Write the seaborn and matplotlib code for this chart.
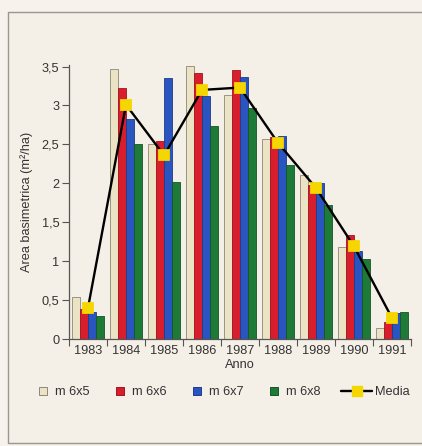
import matplotlib
matplotlib.use("Agg")
import matplotlib.pyplot as plt
from matplotlib.patches import Rectangle
from matplotlib.lines import Line2D
from matplotlib.ticker import FixedLocator, FuncFormatter
import seaborn as sns
import pandas as pd

# Basal area per year and spacing (m²/ha)
anni = ["1983", "1984", "1985", "1986", "1987", "1988", "1989", "1990", "1991"]
m6x5 = [0.54, 3.47, 2.51, 3.51, 3.13, 2.57, 2.11, 1.18, 0.14]
m6x6 = [0.39, 3.23, 2.54, 3.42, 3.45, 2.59, 1.98, 1.33, 0.22]
m6x7 = [0.35, 2.82, 3.35, 3.12, 3.37, 2.61, 2.00, 1.13, 0.33]
m6x8 = [0.30, 2.50, 2.02, 2.74, 2.97, 2.24, 1.72, 1.03, 0.35]
media = [0.40, 3.01, 2.36, 3.20, 3.23, 2.52, 1.94, 1.19, 0.27]
serie = ["m 6x5", "m 6x6", "m 6x7", "m 6x8"]

colori = ["#ece3c4", "#d81e2c", "#2a55c0", "#1e7a37"]
bordi = ["#8a8778", "#a0141e", "#1c3b8a", "#145626"]
giallo = "#f6d600"
sfondo = "#f5f0e7"

df = pd.DataFrame({
    "Anno": anni * 4,
    "Serie": sum([[s] * len(anni) for s in serie], []),
    "Valore": m6x5 + m6x6 + m6x7 + m6x8,
})

sns.set_theme(style="white")
plt.rcParams["font.family"] = ["Liberation Sans", "DejaVu Sans"]

fig = plt.figure(figsize=(4.22, 4.46), dpi=100, facecolor="#f7f3ec")
# inner panel frame
fig.patches.append(Rectangle((8 / 422, 3 / 446), 1.2, 431 / 446, transform=fig.transFigure,
                             facecolor=sfondo, edgecolor="#9a978f", linewidth=1.0, zorder=-10))

ax = fig.add_axes([69 / 422, 107 / 446, 342 / 422, 274 / 446])
ax.set_facecolor(sfondo)

sns.barplot(data=df, x="Anno", y="Valore", hue="Serie", palette=colori,
            width=0.82, gap=0, ax=ax, legend=False, saturation=1)

n = len(anni)
for i, patch in enumerate(ax.patches[: 4 * n]):
    k = i // n
    patch.set_edgecolor(bordi[k])
    patch.set_linewidth(0.6)

sns.pointplot(x=anni, y=media, color="black", markers="s", linestyles="-",
              ax=ax, markersize=7, linewidth=1.7,
              markerfacecolor=giallo, markeredgecolor=giallo, zorder=5)

ax.set_xlim(-0.5, n - 0.5)
ax.set_ylim(0, 3.52)
ax.yaxis.set_major_locator(FixedLocator([0, 0.5, 1, 1.5, 2, 2.5, 3, 3.5]))
ax.yaxis.set_major_formatter(FuncFormatter(lambda v, p: f"{v:g}".replace(".", ",")))
ax.xaxis.set_minor_locator(FixedLocator([i - 0.5 for i in range(n + 1)]))
ax.tick_params(axis="x", which="major", length=0, pad=4, labelsize=9.2, colors="#333333")
ax.tick_params(axis="x", which="minor", length=5, width=0.8, color="#555555", direction="out", bottom=True)
ax.tick_params(axis="y", length=5, width=0.8, color="#555555", direction="out", left=True,
               labelsize=9.2, labelcolor="#333333", pad=2)

for s in ["top", "right"]:
    ax.spines[s].set_visible(False)
for s in ["left", "bottom"]:
    ax.spines[s].set_color("#555555")
    ax.spines[s].set_linewidth(0.9)

ax.set_xlabel("Anno", fontsize=9.2, color="#333333", labelpad=2)
ax.set_ylabel("Area basimetrica (m²/ha)", fontsize=9.2, color="#333333", labelpad=6)

# legend: bar series
handles = [Line2D([0], [0], linestyle="", marker="s", markersize=6.3,
                  markerfacecolor=c, markeredgecolor=b, markeredgewidth=0.7)
           for c, b in zip(colori, bordi)]
fig.legend(handles, serie, loc="center left", bbox_to_anchor=(27 / 422, 1 - 392 / 446),
           ncol=4, frameon=False, fontsize=9.2, handlelength=1.5, borderpad=0,
           handletextpad=0.2, columnspacing=1.62, labelcolor="#333333")

# legend: mean line
linea_media = Line2D([0], [0], color="black", linewidth=1.7, marker="s", markersize=7,
                     markerfacecolor=giallo, markeredgecolor=giallo)
fig.legend([linea_media], ["Media"], loc="center left", bbox_to_anchor=(335 / 422, 1 - 392 / 446),
           frameon=False, fontsize=9.2, handlelength=2.4, borderpad=0,
           handletextpad=0.25, labelcolor="#333333")

fig.savefig("out.png", dpi=100, facecolor=fig.get_facecolor())
